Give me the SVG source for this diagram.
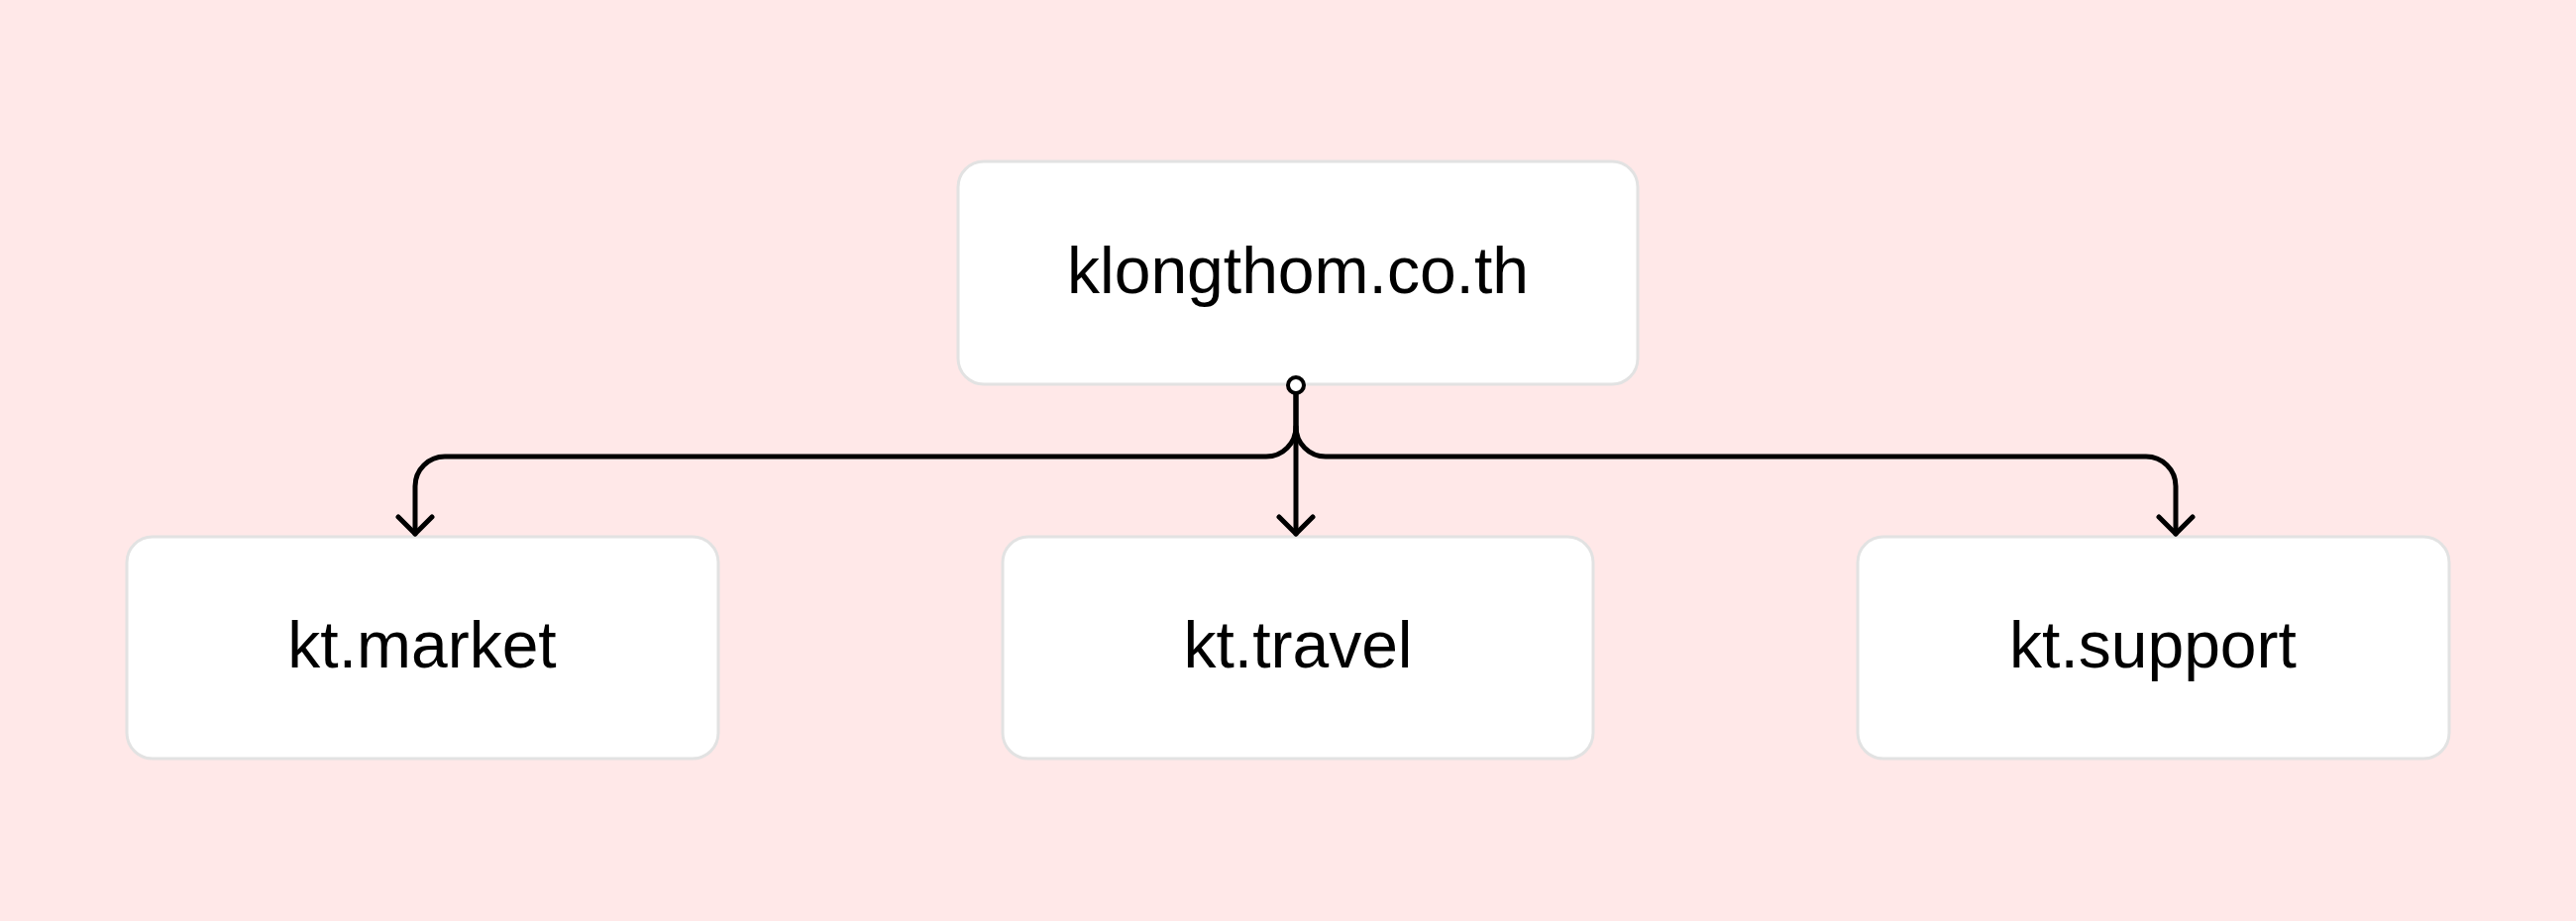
<svg xmlns="http://www.w3.org/2000/svg" width="2600" height="930" viewBox="0 0 2600 930">
  <defs>
    <style>
      .node rect { fill: #ffffff; stroke: #e2e2e2; stroke-width: 3; }
      .node text { font-family: "Liberation Sans", Arial, sans-serif; font-size: 66px; fill: #000000; text-anchor: middle; }
      .edge { fill: none; stroke: #000000; stroke-width: 5; stroke-linecap: round; stroke-linejoin: round; }
    </style>
    <marker id="arrow" viewBox="0 0 40 40" refX="36" refY="20" markerWidth="40" markerHeight="40" markerUnits="userSpaceOnUse" orient="auto">
      <path d="M19 3 L36 20 L19 37" fill="none" stroke="#000" stroke-width="5" stroke-linecap="round" stroke-linejoin="round"/>
    </marker>
  </defs>
  <rect x="0" y="0" width="2600" height="930" fill="#ffe8e8"/>

  <g id="node-root" class="node">
    <rect x="967" y="163" width="686" height="225" rx="26" ry="26"/>
    <text x="1310" y="296">klongthom.co.th</text>
  </g>
  <g id="node-market" class="node">
    <rect x="128" y="542" width="597" height="224" rx="26" ry="26"/>
    <text x="426" y="674">kt.market</text>
  </g>
  <g id="node-travel" class="node">
    <rect x="1012" y="542" width="596" height="224" rx="26" ry="26"/>
    <text x="1310" y="674">kt.travel</text>
  </g>
  <g id="node-support" class="node">
    <rect x="1875" y="542" width="597" height="224" rx="26" ry="26"/>
    <text x="2173" y="674">kt.support</text>
  </g>

  <g id="connectors">
    <path class="edge" d="M1308 397 L1308 431 A30 30 0 0 1 1278 461 L449 461 A30 30 0 0 0 419 491 L419 539" marker-end="url(#arrow)"/>
    <path class="edge" d="M1308 397 L1308 539" marker-end="url(#arrow)"/>
    <path class="edge" d="M1308 431 A30 30 0 0 0 1338 461 L2166 461 A30 30 0 0 1 2196 491 L2196 539" marker-end="url(#arrow)"/>
    <circle cx="1308" cy="389" r="8" fill="#ffffff" stroke="#000000" stroke-width="4"/>
  </g>
</svg>
